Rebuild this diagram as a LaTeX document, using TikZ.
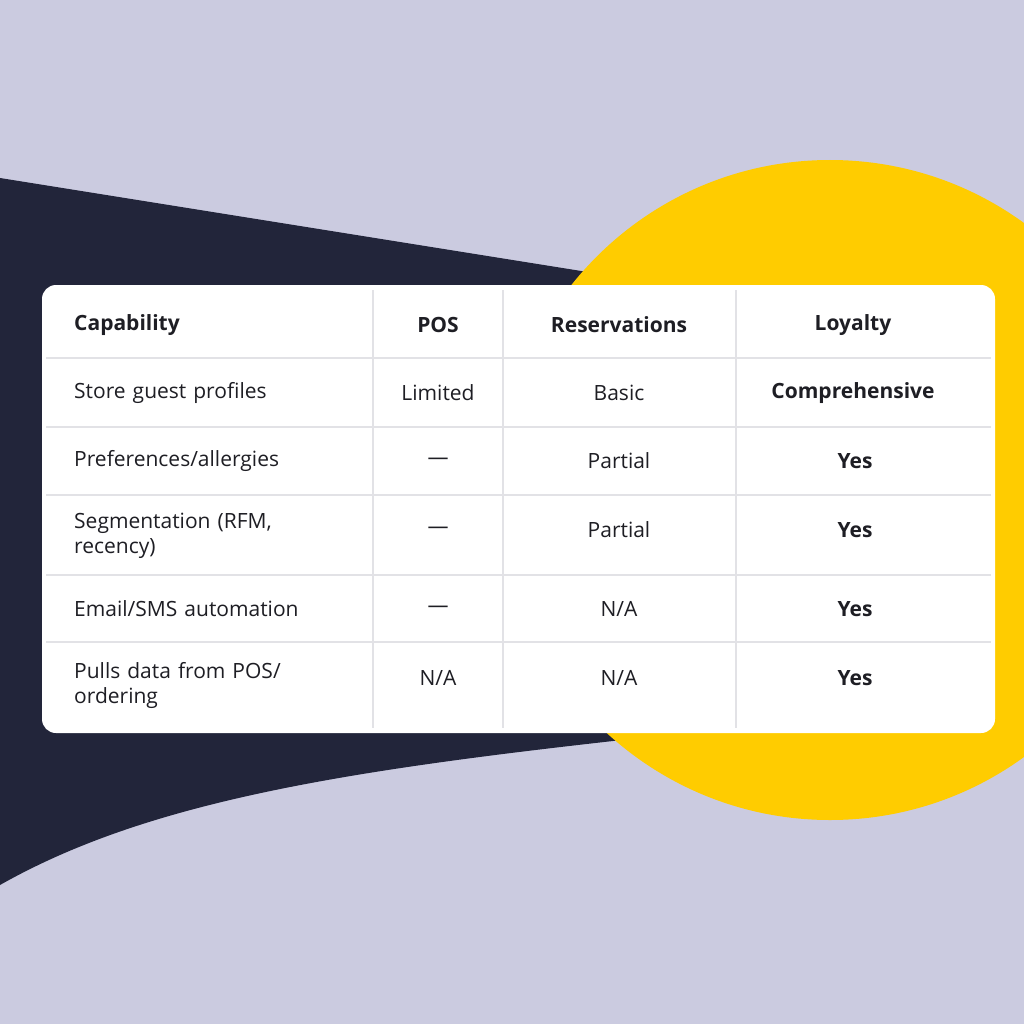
\documentclass[tikz,border=0pt]{standalone}
\usepackage{fontspec}
\setmainfont{Open Sans}
\definecolor{bg}{HTML}{CBCBE0}
\definecolor{navy}{HTML}{22253A}
\definecolor{yel}{HTML}{FFCC00}
\definecolor{grid}{HTML}{E2E2E6}
\definecolor{txt}{HTML}{1E1E24}
\begin{document}
\begin{tikzpicture}[x=1pt,y=-1pt,
  cell/.style={font=\fontsize{21}{25}\selectfont,text=txt,inner sep=0pt},
  lcell/.style={cell,anchor=west,align=left,text width=290pt},
  bd/.style={cell,font=\fontsize{21}{25}\selectfont\bfseries}]
\useasboundingbox (0,0) rectangle (1024,1024);
\fill[bg] (0,0) rectangle (1024,1024);
\fill[navy] (0,178) -- (700,290) -- (700,735) -- (640,738) .. controls (350,770) and (150,800) .. (0,885) -- cycle;
\fill[yel] (830,490) circle (330);
\fill[white,rounded corners=14pt] (42,285) rectangle (995,733);
\foreach \x in {373,503,736} \draw[grid,line width=1.2pt] (\x,290) -- (\x,728);
\foreach \y in {358,427,495,575,642} \draw[grid,line width=1.2pt] (46,\y) -- (991,\y);
% header
\node[lcell,font=\fontsize{21}{25}\selectfont\bfseries] (h1) at (74,325) {Capability};
\node[bd] (h2) at (438,325) {POS};
\node[bd] (h3) at (619,325) {Reservations};
\node[bd] (h4) at (853,325) {Loyalty};
% row1
\node[lcell] (a1) at (74,393) {Store guest profiles};
\node[cell] (b1) at (438,393) {Limited};
\node[cell] (c1) at (619,393) {Basic};
\node[bd] (d1) at (853,393) {Comprehensive};
% row2
\node[lcell] (a2) at (74,461) {Preferences/allergies};
\node[cell] (b2) at (438,461) {—};
\node[cell] (c2) at (619,461) {Partial};
\node[bd] (d2) at (855,461) {Yes};
% row3
\node[lcell] (a3) at (74,536) {Segmentation (RFM,\\recency)};
\node[cell] (b3) at (438,530) {—};
\node[cell] (c3) at (619,530) {Partial};
\node[bd] (d3) at (855,530) {Yes};
% row4
\node[lcell] (a4) at (74,609) {Email/SMS automation};
\node[cell] (b4) at (438,609) {—};
\node[cell] (c4) at (619,609) {N/A};
\node[bd] (d4) at (855,609) {Yes};
% row5
\node[lcell] (a5) at (74,685) {Pulls data from POS/\\ordering};
\node[cell] (b5) at (438,678) {N/A};
\node[cell] (c5) at (619,678) {N/A};
\node[bd] (d5) at (855,678) {Yes};
\end{tikzpicture}
\end{document}
